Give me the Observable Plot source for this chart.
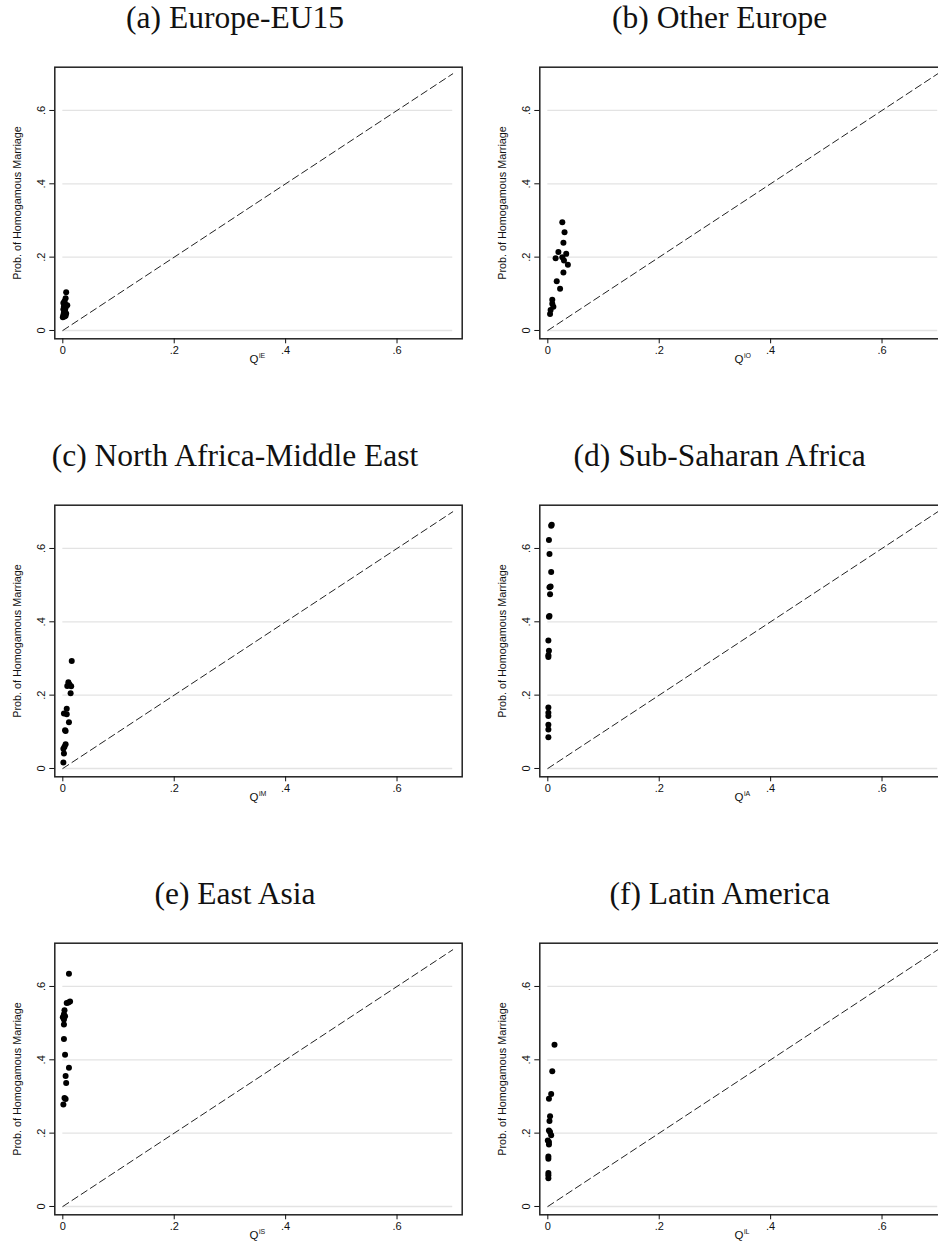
<!DOCTYPE html>
<html>
<head>
<meta charset="utf-8">
<script src="https://cdn.jsdelivr.net/npm/d3@7"></script>
<script src="https://cdn.jsdelivr.net/npm/@observablehq/plot@0.6"></script>
<style>
html, body { margin: 0; padding: 0; background: #fff; }
#root { position: relative; width: 938px; height: 1249px; overflow: hidden; }
.panel { position: absolute; width: 485px; height: 438px; }
.title { position: absolute; left: 0; width: 470px; top: 2px; text-align: center;
  font-family: "Liberation Serif", "DejaVu Serif", serif; font-size: 31.5px; line-height: 31.5px; color: #111; white-space: nowrap; }
.panel svg { position: absolute; left: 0; top: 40px; }
</style>
</head>
<body>
<div id="root"></div>
<script>
// ---- Data ----
const panelTitles = ["(a) Europe-EU15", "(b) Other Europe", "(c) North Africa-Middle East",
                     "(d) Sub-Saharan Africa", "(e) East Asia", "(f) Latin America"];
const xSuperscripts = ["iE", "iO", "iM", "iA", "iS", "iL"];
const yAxisTitle = "Prob. of Homogamous Marriage";
const xAxisLetter = "Q";
const xTicks = [0, 0.2, 0.4, 0.6];
const yTicks = [0, 0.2, 0.4, 0.6];
const diagonal = [0, 0.7];

const qEU15 = [0.006, 0.005, 0.003, 0.001, 0.004, 0.008, 0.002, 0.005, 0.001, 0.004, 0.002, 0.006, 0.001, 0.003, 0.000, 0.005];
const pEU15 = [0.104, 0.088, 0.080, 0.075, 0.072, 0.069, 0.066, 0.062, 0.058, 0.054, 0.050, 0.046, 0.042, 0.038, 0.036, 0.040];

const qOtherEurope = [0.026, 0.030, 0.028, 0.019, 0.033, 0.014, 0.026, 0.029, 0.036, 0.028, 0.016, 0.022, 0.008, 0.008, 0.010, 0.005, 0.004];
const pOtherEurope = [0.295, 0.268, 0.239, 0.214, 0.209, 0.197, 0.200, 0.191, 0.179, 0.158, 0.134, 0.114, 0.084, 0.073, 0.065, 0.056, 0.045];

const qNAME = [0.016, 0.010, 0.012, 0.015, 0.008, 0.014, 0.007, 0.002, 0.007, 0.011, 0.004, 0.005, 0.005, 0.003, 0.001, 0.002, 0.001];
const pNAME = [0.293, 0.235, 0.229, 0.224, 0.225, 0.205, 0.163, 0.150, 0.148, 0.126, 0.104, 0.102, 0.066, 0.059, 0.054, 0.041, 0.016];

const qSSA = [0.007, 0.006, 0.002, 0.003, 0.006, 0.005, 0.003, 0.004, 0.003, 0.002, 0.001, 0.002, 0.001, 0.001, 0.001, 0.001, 0.001, 0.001, 0.001, 0.001];
const pSSA = [0.665, 0.662, 0.623, 0.585, 0.536, 0.496, 0.494, 0.475, 0.416, 0.414, 0.349, 0.321, 0.309, 0.304, 0.166, 0.152, 0.143, 0.119, 0.106, 0.085];

const qEastAsia = [0.011, 0.013, 0.010, 0.007, 0.003, 0.002, 0.004, 0.000, 0.002, 0.002, 0.002, 0.004, 0.011, 0.005, 0.006, 0.003, 0.005, 0.001];
const pEastAsia = [0.635, 0.559, 0.556, 0.555, 0.535, 0.524, 0.519, 0.516, 0.510, 0.496, 0.457, 0.414, 0.378, 0.356, 0.337, 0.296, 0.293, 0.278];

const qLatAm = [0.012, 0.008, 0.006, 0.002, 0.004, 0.003, 0.002, 0.004, 0.006, 0.000, 0.002, 0.002, 0.001, 0.001, 0.001, 0.001, 0.001];
const pLatAm = [0.441, 0.369, 0.307, 0.294, 0.246, 0.233, 0.207, 0.203, 0.194, 0.180, 0.176, 0.169, 0.136, 0.130, 0.091, 0.085, 0.077];

const panelQ = [qEU15, qOtherEurope, qNAME, qSSA, qEastAsia, qLatAm];
const panelP = [pEU15, pOtherEurope, pNAME, pSSA, pEastAsia, pLatAm];

// ---- Drawing ----
const fmt = d => d === 0 ? "0" : d3.format(".1f")(d).replace(/^0/, "");
const root = document.getElementById("root");
const colStep = 484.7, rowStep = 438;

panelTitles.forEach((title, i) => {
  const col = i % 2, row = Math.floor(i / 2);
  const panel = document.createElement("div");
  panel.className = "panel";
  panel.style.left = (col * colStep) + "px";
  panel.style.top = (row * rowStep) + "px";

  const t = document.createElement("div");
  t.className = "title";
  t.textContent = title;
  panel.appendChild(t);

  const pts = panelQ[i].map((q, k) => ({q, p: panelP[i][k]}));
  const diag = diagonal.map(v => ({q: v, p: v}));

  const chart = Plot.plot({
    width: 485, height: 335,
    marginLeft: 54.3, marginRight: 23.3, marginTop: 26.7, marginBottom: 36.7,
    x: {domain: [-0.0144, 0.717]},
    y: {domain: [-0.0227, 0.718]},
    style: {fontFamily: "'Liberation Sans', Arial, sans-serif", fontSize: "11px", color: "#111", background: "transparent", overflow: "visible"},
    marks: [
      Plot.ruleY(yTicks, {y: d => d, x1: diagonal[0], x2: diagonal[1], stroke: "#e3e3e3", strokeWidth: 1.3}),
      Plot.line(diag, {x: "q", y: "p", stroke: "#222", strokeWidth: 1, strokeDasharray: "7,4"}),
      Plot.dot(pts, {x: "q", y: "p", r: 3, fill: "#000", stroke: "none"}),
      Plot.frame({stroke: "#222", strokeWidth: 1.5}),
      Plot.axisX(xTicks, {tickSize: 5, tickPadding: 2, tickFormat: fmt, label: null}),
      Plot.axisY(yTicks, {tickSize: 5, tickPadding: 5, tickRotate: -90, tickFormat: fmt, label: null}),
      Plot.text([yAxisTitle], {text: d => d, frameAnchor: "left", textAnchor: "middle", lineAnchor: "middle", rotate: -90, dx: -37.5, fontSize: 10.8}),
      Plot.text([xAxisLetter], {text: d => d, frameAnchor: "bottom", textAnchor: "end", dy: 24, fontSize: 11.5}),
      Plot.text([xSuperscripts[i]], {text: d => d, frameAnchor: "bottom", textAnchor: "start", dx: 0.5, dy: 19.5, fontSize: 7})
    ]
  });
  panel.appendChild(chart);
  root.appendChild(panel);
});
</script>
</body>
</html>
